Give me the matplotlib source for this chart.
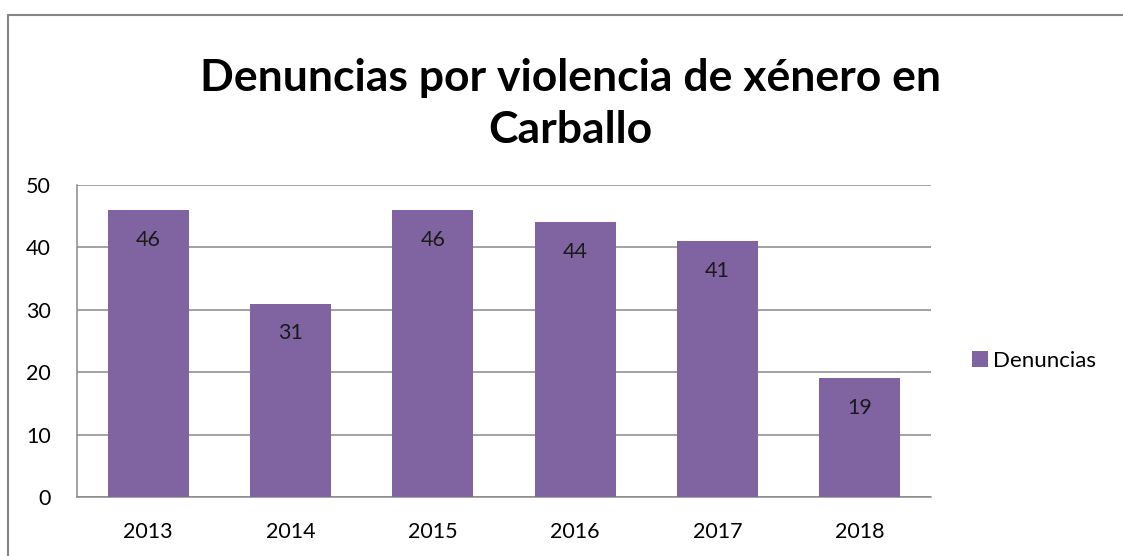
import matplotlib.pyplot as plt
from matplotlib.patches import Rectangle

years = ["2013", "2014", "2015", "2016", "2017", "2018"]
denuncias = [46, 31, 46, 44, 41, 19]
series_name = "Denuncias"
title = "Denuncias por violencia de xénero en\nCarballo"

BAR_COLOR = "#8064A2"
GRID_COLOR = "#898989"
FONT = ["Lato", "DejaVu Sans"]

W, H = 1123, 556
fig = plt.figure(figsize=(W / 100, H / 100), dpi=100)
plt.rcParams["font.family"] = FONT

# plot area in pixels: left 77, right 931, top 185, bottom 497
ax = fig.add_axes([77 / W, 1 - 497 / H, (931 - 77) / W, (497 - 185) / H])

x = list(range(len(years)))
bars = ax.bar(x, denuncias, width=0.57, color=BAR_COLOR, label=series_name, zorder=3)
for xi, v in zip(x, denuncias):
    ax.annotate(str(v), (xi, v), xytext=(0, -21.5), textcoords="offset points",
                ha="center", va="center", fontsize=15.5, color="#1a1a1a", zorder=4)

ax.set_xlim(-0.5, len(years) - 0.5)
ax.set_ylim(0, 50)
ax.set_yticks(range(0, 51, 10))
ax.set_xticks(x)
ax.set_xticklabels(years)
ax.yaxis.grid(True, color=GRID_COLOR, linewidth=1.1, zorder=0)
ax.tick_params(axis="both", length=0, labelsize=15.5, colors="#000000")
ax.tick_params(axis="x", pad=18)
ax.tick_params(axis="y", pad=19)
for side in ["top", "right"]:
    ax.spines[side].set_visible(False)
for side in ["left", "bottom"]:
    ax.spines[side].set_color(GRID_COLOR)
    ax.spines[side].set_linewidth(1.1)

fig.text(570 / W, 1 - 104 / H, title, ha="center", va="center",
         fontsize=32, fontweight="bold", linespacing=1.35)

fig.legend(handles=[bars], labels=[series_name], loc="center left",
           bbox_to_anchor=(952 / W, 1 - 361 / H), frameon=False, fontsize=16,
           handlelength=0.7, handleheight=0.7, handletextpad=0.25)

# outer chart border (runs off the right and bottom edges)
fig.patches.append(Rectangle((7.5 / W, -0.1), 1.2, 1 - 14.5 / H + 0.1, transform=fig.transFigure,
                             fill=False, edgecolor="#868686", linewidth=1.5))

fig.savefig("out.png", dpi=100)
